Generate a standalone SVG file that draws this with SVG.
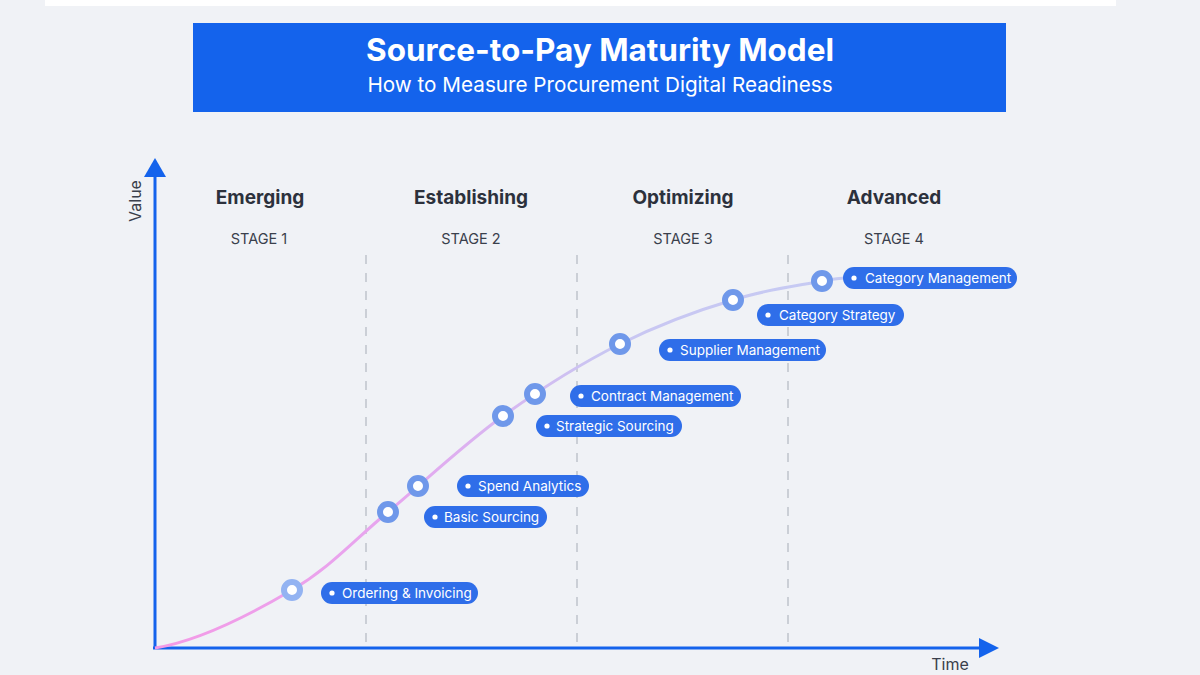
<svg xmlns="http://www.w3.org/2000/svg" width="1200" height="675" viewBox="0 0 1200 675">
<defs>
<style>
.t{font-family:Inter,"Liberation Sans",sans-serif}
.stage{font-family:Inter,"Liberation Sans",sans-serif;font-size:19px;font-weight:700;fill:#2c313c;text-anchor:middle}
.snum{font-family:Inter,"Liberation Sans",sans-serif;font-size:14.5px;fill:#3a404c;text-anchor:middle}
.pill{fill:#2f6ee9}
.pt{font-family:Inter,"Liberation Sans",sans-serif;font-size:13.5px;fill:#ffffff}
.dot{fill:#ffffff}
.ring{fill:#ffffff;stroke:#6f98ea;stroke-width:6}
.dash{stroke:#cbcfd6;stroke-width:2;stroke-dasharray:9 9;fill:none}
.ax{stroke:#1463ec;stroke-width:3;fill:none}
.axl{font-family:Inter,"Liberation Sans",sans-serif;font-size:16px;fill:#3a3f4b}
</style>
<linearGradient id="cg" gradientUnits="userSpaceOnUse" x1="155" y1="0" x2="845" y2="0">
<stop offset="0" stop-color="#f49ae6"/>
<stop offset="0.35" stop-color="#e6a6ef"/>
<stop offset="0.65" stop-color="#c9c6f2"/>
<stop offset="1" stop-color="#c6cbf3"/>
</linearGradient>
</defs>
<rect width="1200" height="675" fill="#f0f2f6"/>
<rect x="45" y="0" width="1071" height="6" fill="#ffffff"/>
<g id="title">
<rect x="193" y="23" width="813" height="89" fill="#1463ec"/>
<text class="t" x="600" y="61" font-size="31.5" font-weight="700" fill="#ffffff" text-anchor="middle">Source-to-Pay Maturity Model</text>
<text class="t" x="600" y="92" font-size="20.7" fill="#ffffff" text-anchor="middle">How to Measure Procurement Digital Readiness</text>
</g>
<g id="stages">
<text class="stage" x="260" y="204">Emerging</text>
<text class="snum" x="259" y="244">STAGE 1</text>
<text class="stage" x="471" y="204">Establishing</text>
<text class="snum" x="471" y="244">STAGE 2</text>
<text class="stage" x="683" y="204">Optimizing</text>
<text class="snum" x="683" y="244">STAGE 3</text>
<text class="stage" x="894" y="204">Advanced</text>
<text class="snum" x="894" y="244">STAGE 4</text>
</g>
<g id="dividers">
<line class="dash" x1="366" y1="255" x2="366" y2="645"/>
<line class="dash" x1="577" y1="255" x2="577" y2="645"/>
<line class="dash" x1="788" y1="255" x2="788" y2="645"/>
</g>
<g id="axes">
<line class="ax" x1="155" y1="175" x2="155" y2="649"/>
<polygon points="155,158 144,177 166,177" fill="#1463ec"/>
<line class="ax" x1="153" y1="648" x2="982" y2="648"/>
<polygon points="999,648 979,638 979,658" fill="#1463ec"/>
<text class="axl" transform="translate(141,201) rotate(-90)" text-anchor="middle">Value</text>
<text class="axl" x="950" y="670" text-anchor="middle">Time</text>
</g>
<g id="connectors">
<path d="M155,648 C200,641 253,613 292,590 C331,567 353,541 388,512 C423,483 464,444 503,416 C542,388 582,363 620,344 C658,325 699,310 733,300 C767,289 803,285 822,281 C835,279 840,278 845,278" fill="none" stroke="url(#cg)" stroke-width="3"/>
</g>
<g id="n1"><circle class="ring" cx="292" cy="590" r="8" style="stroke:#93b3f2"/><rect class="pill" x="321" y="582" width="157" height="22" rx="11"/><circle class="dot" cx="332" cy="593" r="2.6"/><text class="pt" x="342" y="598">Ordering &amp; Invoicing</text></g>
<g id="n2"><circle class="ring" cx="388" cy="512" r="8"/><rect class="pill" x="424" y="506" width="123" height="22" rx="11"/><circle class="dot" cx="435" cy="517" r="2.6"/><text class="pt" x="444" y="522">Basic Sourcing</text></g>
<g id="n3"><circle class="ring" cx="418" cy="486" r="8"/><rect class="pill" x="457" y="475" width="132" height="22" rx="11"/><circle class="dot" cx="468" cy="486" r="2.6"/><text class="pt" x="478" y="491">Spend Analytics</text></g>
<g id="n4"><circle class="ring" cx="503" cy="416" r="8"/><rect class="pill" x="536" y="415" width="146" height="22" rx="11"/><circle class="dot" cx="547" cy="426" r="2.6"/><text class="pt" x="556" y="431">Strategic Sourcing</text></g>
<g id="n5"><circle class="ring" cx="535" cy="394" r="8"/><rect class="pill" x="570" y="385" width="171" height="22" rx="11"/><circle class="dot" cx="581" cy="396" r="2.6"/><text class="pt" x="591" y="401">Contract Management</text></g>
<g id="n6"><circle class="ring" cx="620" cy="344" r="8"/><rect class="pill" x="659" y="339" width="167" height="22" rx="11"/><circle class="dot" cx="670" cy="350" r="2.6"/><text class="pt" x="680" y="355">Supplier Management</text></g>
<g id="n7"><circle class="ring" cx="733" cy="300" r="8"/><rect class="pill" x="757" y="304" width="147" height="22" rx="11"/><circle class="dot" cx="768" cy="315" r="2.6"/><text class="pt" x="779" y="320">Category Strategy</text></g>
<g id="n8"><circle class="ring" cx="822" cy="281" r="8"/><rect class="pill" x="843" y="267" width="174" height="22" rx="11"/><circle class="dot" cx="854" cy="278" r="2.6"/><text class="pt" x="865" y="283">Category Management</text></g>
</svg>
